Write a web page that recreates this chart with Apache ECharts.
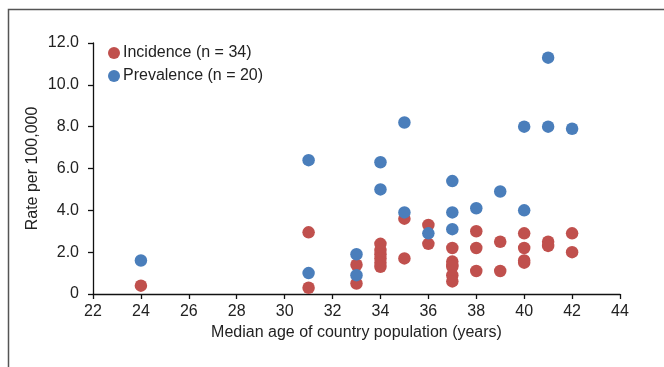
<!DOCTYPE html>
<html>
<head>
<meta charset="utf-8">
<script src="https://cdn.jsdelivr.net/npm/echarts@6/dist/echarts.min.js"></script>
<style>html,body{margin:0;padding:0;background:#fff}#c{width:664px;height:367px}</style>
</head>
<body>
<div id="c"></div>
<script>
// Incidence (n = 34): [median age, rate]
const incidenceAge  = [24, 31, 31, 33, 33, 34, 34, 34, 34, 34, 34, 35, 35, 36, 36, 37, 37, 37, 37, 37, 37, 38, 38, 38, 39, 39, 40, 40, 40, 40, 41, 41, 42, 42];
const incidenceRate = [0.4, 2.95, 0.3, 1.4, 0.5, 2.4, 2.1, 1.9, 1.7, 1.5, 1.3, 3.6, 1.7, 3.3, 2.4, 2.2, 1.55, 1.4, 1.3, 0.9, 0.6, 3.0, 2.2, 1.1, 2.5, 1.1, 2.9, 2.2, 1.6, 1.5, 2.5, 2.3, 2.9, 2.0];
// Prevalence (n = 20)
const prevalenceAge  = [24, 31, 31, 33, 33, 34, 34, 35, 35, 36, 37, 37, 37, 38, 39, 40, 40, 41, 41, 42];
const prevalenceRate = [1.6, 6.4, 1.0, 1.9, 0.9, 6.3, 5.0, 8.2, 3.9, 2.9, 5.4, 3.9, 3.1, 4.1, 4.9, 8.0, 4.0, 11.3, 8.0, 7.9];
const seriesNames = ['Incidence (n = 34)', 'Prevalence (n = 20)'];
const xTitle = 'Median age of country population (years)';
const yTitle = 'Rate per 100,000';

const zip = (a, b) => a.map((v, i) => [v, b[i]]);
const font = 'Liberation Sans, Arial, Helvetica, sans-serif';
const chart = echarts.init(document.getElementById('c'), null, {renderer: 'canvas'});
chart.setOption({
  animation: false,
  backgroundColor: '#fff',
  graphic: [{
    type: 'rect', left: 6, top: 7, shape: {width: 700, height: 400},
    style: {fill: 'none', stroke: '#555', lineWidth: 1.5}, silent: true
  }],
  grid: {left: 93, right: 44, top: 43, bottom: 73},
  legend: {
    orient: 'vertical', left: 103, top: 40, itemGap: 7,
    itemWidth: 12, itemHeight: 12, icon: 'circle',
    textStyle: {fontFamily: font, fontSize: 16, color: '#222', padding: [0, 0, 0, -2]},
    data: seriesNames
  },
  xAxis: {
    type: 'value', min: 22, max: 44, interval: 2,
    name: xTitle, nameLocation: 'middle', nameGap: 31, nameMoveOverlap: false,
    nameTextStyle: {fontFamily: font, fontSize: 16, color: '#222'},
    axisLine: {show: true, lineStyle: {color: '#111', width: 1.3}},
    axisTick: {show: true, inside: false, length: 5, lineStyle: {color: '#111', width: 1.3}},
    axisLabel: {fontFamily: font, fontSize: 16, color: '#222', margin: 10},
    splitLine: {show: false}
  },
  yAxis: {
    type: 'value', min: 0, max: 12, interval: 2,
    name: yTitle, nameLocation: 'middle', nameGap: 52, nameRotate: 90, nameMoveOverlap: false,
    nameTextStyle: {fontFamily: font, fontSize: 16, color: '#222'},
    axisLine: {show: true, lineStyle: {color: '#111', width: 1.3}},
    axisTick: {show: true, inside: false, length: 5, lineStyle: {color: '#111', width: 1.3}},
    axisLabel: {fontFamily: font, fontSize: 16, color: '#222', margin: 14,
      formatter: v => v === 0 ? '0' : v.toFixed(1)},
    splitLine: {show: false}
  },
  series: [
    {name: seriesNames[0], type: 'scatter', symbolSize: 12.5,
     itemStyle: {color: '#C0504D', opacity: 1}, data: zip(incidenceAge, incidenceRate)},
    {name: seriesNames[1], type: 'scatter', symbolSize: 12.5,
     itemStyle: {color: '#4A7EBB', opacity: 1}, data: zip(prevalenceAge, prevalenceRate)}
  ]
});
</script>
</body>
</html>
